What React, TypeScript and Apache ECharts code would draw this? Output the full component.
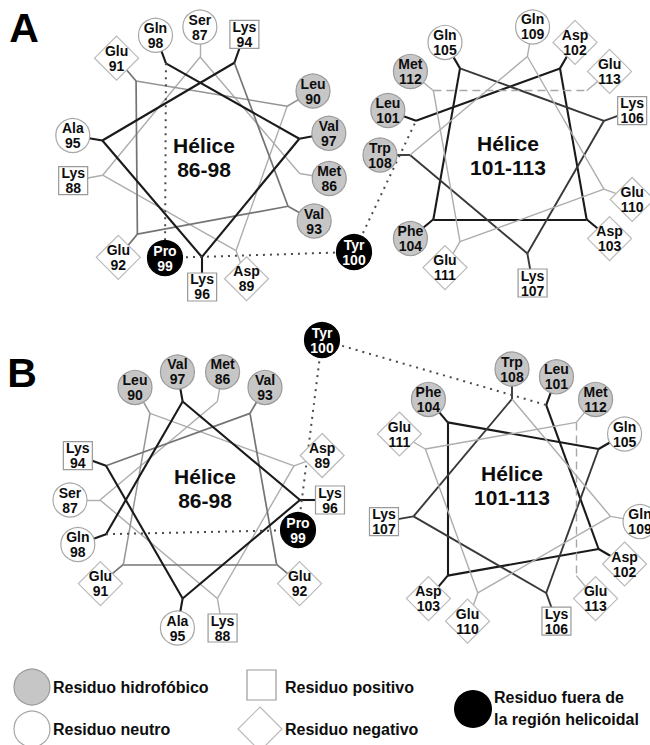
import React, { useEffect, useRef } from "react";
import * as echarts from "echarts";

// ---------------- data ----------------
const HELIX_1_NUMBERS = [86, 87, 88, 89, 90, 91, 92, 93, 94, 95, 96, 97, 98];
const HELIX_1_NAMES = ["Met", "Ser", "Lys", "Asp", "Leu", "Glu", "Glu", "Val", "Lys", "Ala", "Lys", "Val", "Gln"];
const HELIX_1_TYPES = [
  "hydrophobic", "neutral", "positive", "negative", "hydrophobic", "negative", "negative",
  "hydrophobic", "positive", "neutral", "positive", "hydrophobic", "neutral",
];
const HELIX_2_NUMBERS = [101, 102, 103, 104, 105, 106, 107, 108, 109, 110, 111, 112, 113];
const HELIX_2_NAMES = ["Leu", "Asp", "Asp", "Phe", "Gln", "Lys", "Lys", "Trp", "Gln", "Glu", "Glu", "Met", "Glu"];
const HELIX_2_TYPES = [
  "hydrophobic", "negative", "negative", "hydrophobic", "neutral", "positive", "positive",
  "hydrophobic", "neutral", "negative", "negative", "hydrophobic", "negative",
];
const LINKER_NUMBERS = [99, 100];
const LINKER_NAMES = ["Pro", "Tyr"];
const LINKER_TYPES = ["outside", "outside"];
const HELIX_TITLES = ["Hélice\n86-98", "Hélice\n101-113"];
const PANEL_LABELS = ["A", "B"];
const LEGEND_LABELS = [
  "Residuo hidrofóbico",
  "Residuo neutro",
  "Residuo positivo",
  "Residuo negativo",
  "Residuo fuera de\nla región helicoidal",
];
const RESIDUE_STEP_DEG = 100; // alpha-helix: 100 degrees per residue

// ---------------- layout / style ----------------
const W = 650;
const H = 745;
const FONT = '"Liberation Sans", Arial, Helvetica, sans-serif';
const MARKER_R = 130;
const VERTEX_R = 100;

// segment shades along each helix (L light, M medium, D dark, dash = dashed light)
const HELIX_1_SEGMENT_SHADES = ["L", "L", "L", "L", "M1", "M", "M", "M", "D", "D", "D", "D"];
const HELIX_2_SEGMENT_SHADES = ["D", "D", "D", "D", "M2", "M2", "M2", "L", "L", "L", "L", "dash"];
const SHADE_STYLE: Record<string, any> = {
  L: { color: "#adadad", width: 1.4, type: "solid", rank: 0 },
  M1: { color: "#959595", width: 1.5, type: "solid", rank: 1 },
  M: { color: "#747474", width: 1.7, type: "solid", rank: 2 },
  M2: { color: "#383838", width: 1.9, type: "solid", rank: 3 },
  D: { color: "#1a1a1a", width: 2.1, type: "solid", rank: 4 },
  dash: { color: "#a8a8a8", width: 1.4, type: [8, 5], rank: -1 },
};

const TYPE_STYLE: Record<string, any> = {
  hydrophobic: { symbol: "circle", size: 34, fill: "#c6c6c6", stroke: "#9a9a9a", text: "#0d0d0d" },
  neutral: { symbol: "circle", size: 34, fill: "#ffffff", stroke: "#a6a6a6", text: "#0d0d0d" },
  positive: { symbol: "rect", size: [29, 28], fill: "#ffffff", stroke: "#9a9a9a", text: "#0d0d0d" },
  negative: { symbol: "diamond", size: [44, 44], fill: "#ffffff", stroke: "#bababa", text: "#0d0d0d" },
  outside: { symbol: "circle", size: 35, fill: "#000000", stroke: "#000000", text: "#ffffff" },
};

const HELICES = [
  { numbers: HELIX_1_NUMBERS, names: HELIX_1_NAMES, types: HELIX_1_TYPES, shades: HELIX_1_SEGMENT_SHADES, title: HELIX_TITLES[0] },
  { numbers: HELIX_2_NUMBERS, names: HELIX_2_NAMES, types: HELIX_2_TYPES, shades: HELIX_2_SEGMENT_SHADES, title: HELIX_TITLES[1] },
];

const PANELS = [
  {
    label: PANEL_LABELS[0],
    labelPos: [24, 28],
    wheels: [
      { cx: 201, cy: 157, start: -9.5, dir: 1, titlePos: [204, 157] },
      { cx: 510, cy: 155, start: 160, dir: -1, titlePos: [508, 155] },
    ],
    linkerPos: [[165, 258], [354, 252]],
  },
  {
    label: PANEL_LABELS[1],
    labelPos: [22, 373],
    wheels: [
      { cx: 200, cy: 500, start: 80, dir: 1, titlePos: [205, 488] },
      { cx: 512, cy: 499, start: 70, dir: -1, titlePos: [512, 485] },
    ],
    linkerPos: [[298, 530], [322, 340]],
  },
];

function wheelPoint(w: any, i: number, r: number) {
  const a = ((w.start + w.dir * RESIDUE_STEP_DEG * i) * Math.PI) / 180;
  return [w.cx + r * Math.cos(a), w.cy - r * Math.sin(a)];
}

function markerItem(pos: number[], name: string, num: number, type: string) {
  const s = TYPE_STYLE[type];
  return {
    name: `${name} ${num}`,
    value: pos,
    symbol: s.symbol,
    symbolSize: s.size,
    itemStyle: { color: s.fill, borderColor: s.stroke, borderWidth: 1.2, opacity: 1 },
    label: { show: true, formatter: `${name}\n${num}`, color: s.text },
  };
}

function buildOption() {
  const lineItems: any[] = [];
  const markers: any[] = [];
  const graphics: any[] = [];

  PANELS.forEach((panel) => {
    const wheelVertices: number[][][] = [];
    panel.wheels.forEach((w, h) => {
      const helix = HELICES[h];
      const verts = helix.numbers.map((_, i) => wheelPoint(w, i, VERTEX_R));
      const mpos = helix.numbers.map((_, i) => wheelPoint(w, i, MARKER_R));
      wheelVertices.push(verts);
      for (let i = 0; i < verts.length - 1; i++) {
        const st = SHADE_STYLE[helix.shades[i]];
        lineItems.push({
          coords: [verts[i], verts[i + 1]],
          lineStyle: { color: st.color, width: st.width, type: st.type, opacity: 1 },
        });
      }
      for (let i = 0; i < verts.length; i++) {
        const cand = [helix.shades[i - 1], helix.shades[i]].filter((k) => k && k !== "dash");
        let best = SHADE_STYLE.L;
        cand.forEach((k) => {
          if (SHADE_STYLE[k].rank > best.rank) best = SHADE_STYLE[k];
        });
        lineItems.push({
          coords: [verts[i], mpos[i]],
          lineStyle: { color: best.color, width: best.width, type: "solid", opacity: 1 },
        });
        markers.push(markerItem(mpos[i], helix.names[i], helix.numbers[i], helix.types[i]));
      }
      graphics.push({
        type: "text",
        x: w.titlePos[0],
        y: w.titlePos[1],
        z: 10,
        style: {
          text: helix.title,
          fill: "#0d0d0d",
          font: `bold 21px ${FONT}`,
          lineHeight: 24,
          align: "center",
          verticalAlign: "middle",
        },
      });
    });

    const v1 = wheelVertices[0];
    const path = [v1[v1.length - 1], panel.linkerPos[0], panel.linkerPos[1], wheelVertices[1][0]];
    for (let i = 0; i < path.length - 1; i++) {
      lineItems.push({
        coords: [path[i], path[i + 1]],
        lineStyle: { color: "#4a4a4a", width: 2, type: [2, 5], opacity: 1 },
      });
    }
    LINKER_NUMBERS.forEach((n, i) => {
      markers.push(markerItem(panel.linkerPos[i], LINKER_NAMES[i], n, LINKER_TYPES[i]));
    });

    graphics.push({
      type: "text",
      x: panel.labelPos[0],
      y: panel.labelPos[1],
      style: {
        text: panel.label,
        fill: "#000",
        font: `bold 41px ${FONT}`,
        align: "center",
        verticalAlign: "middle",
      },
    });
  });

  const legendFont = `bold 16px ${FONT}`;
  const row1 = 687;
  const row2 = 729;
  graphics.push(
    { type: "circle", shape: { cx: 32, cy: row1, r: 18 }, style: { fill: "#c6c6c6", stroke: "#9a9a9a", lineWidth: 1.2 } },
    { type: "text", x: 53, y: row1, style: { text: LEGEND_LABELS[0], font: legendFont, fill: "#0d0d0d", verticalAlign: "middle" } },
    { type: "circle", shape: { cx: 32, cy: row2, r: 18 }, style: { fill: "#fff", stroke: "#a6a6a6", lineWidth: 1.2 } },
    { type: "text", x: 53, y: row2, style: { text: LEGEND_LABELS[1], font: legendFont, fill: "#0d0d0d", verticalAlign: "middle" } },
    { type: "rect", shape: { x: 247, y: 670, width: 29, height: 30 }, style: { fill: "#fff", stroke: "#9a9a9a", lineWidth: 1.2 } },
    { type: "text", x: 285, y: row1, style: { text: LEGEND_LABELS[2], font: legendFont, fill: "#0d0d0d", verticalAlign: "middle" } },
    {
      type: "polygon",
      shape: { points: [[260, row2 - 22], [282, row2], [260, row2 + 22], [238, row2]] },
      style: { fill: "#fff", stroke: "#bababa", lineWidth: 1.2 },
    },
    { type: "text", x: 285, y: row2, style: { text: LEGEND_LABELS[3], font: legendFont, fill: "#0d0d0d", verticalAlign: "middle" } },
    { type: "circle", shape: { cx: 473, cy: 709, r: 19 }, style: { fill: "#000" } },
    {
      type: "text",
      x: 494,
      y: 708,
      style: { text: LEGEND_LABELS[4], font: legendFont, lineHeight: 22, fill: "#0d0d0d", verticalAlign: "middle" },
    }
  );

  return {
    animation: false,
    backgroundColor: "#ffffff",
    grid: { left: 0, right: 0, top: 0, bottom: 0 },
    xAxis: { type: "value", min: 0, max: W, show: false },
    yAxis: { type: "value", min: 0, max: H, inverse: true, show: false },
    series: [
      {
        type: "lines",
        coordinateSystem: "cartesian2d",
        silent: true,
        z: 1,
        data: lineItems,
      },
      {
        type: "scatter",
        silent: true,
        z: 3,
        clip: false,
        itemStyle: { opacity: 1 },
        label: {
          show: true,
          position: "inside",
          fontFamily: FONT,
          fontWeight: "bold",
          fontSize: 14,
          lineHeight: 15,
        },
        data: markers,
      },
    ],
    graphic: graphics,
  };
}

export default function App() {
  const ref = useRef<HTMLDivElement>(null);
  useEffect(() => {
    document.body.style.margin = "0";
    const chart = echarts.init(ref.current as HTMLDivElement, null, { renderer: "svg" });
    chart.setOption(buildOption() as any);
    return () => chart.dispose();
  }, []);
  return <div ref={ref} style={{ width: W, height: H }} />;
}
